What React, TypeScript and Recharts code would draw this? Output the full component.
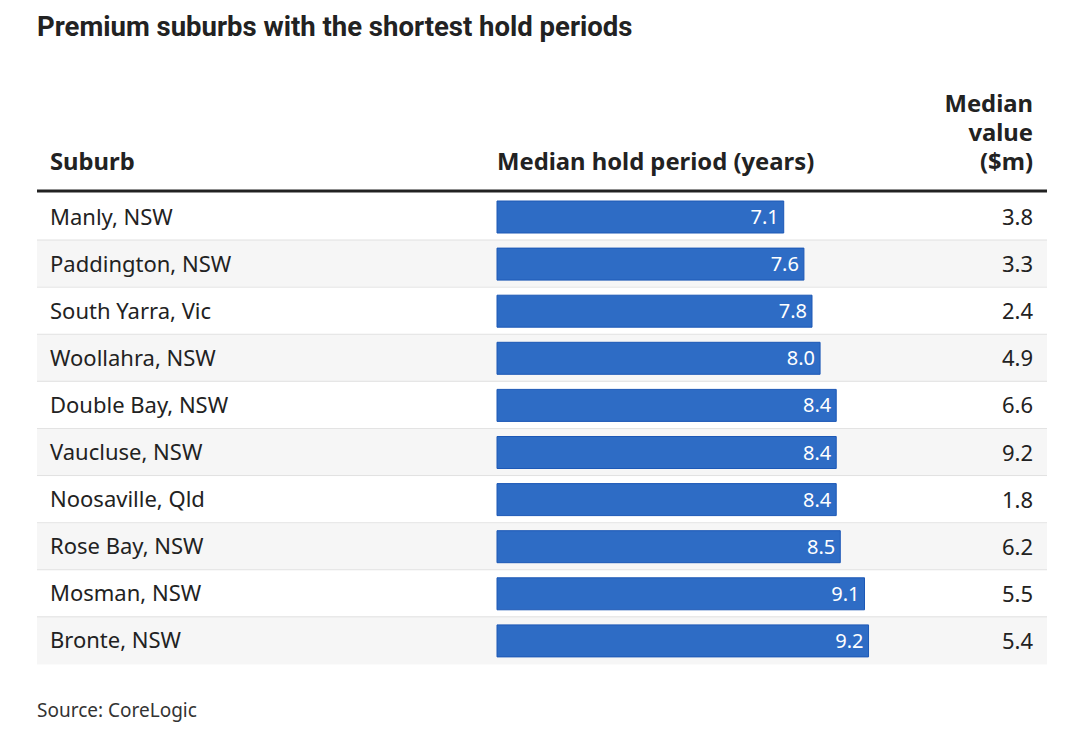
import React from 'react';
import { BarChart, Bar, XAxis, YAxis, LabelList } from 'recharts';

const suburbs = [
  'Manly, NSW',
  'Paddington, NSW',
  'South Yarra, Vic',
  'Woollahra, NSW',
  'Double Bay, NSW',
  'Vaucluse, NSW',
  'Noosaville, Qld',
  'Rose Bay, NSW',
  'Mosman, NSW',
  'Bronte, NSW',
];
const holdPeriods = [7.1, 7.6, 7.8, 8.0, 8.4, 8.4, 8.4, 8.5, 9.1, 9.2];
const medianValues = [3.8, 3.3, 2.4, 4.9, 6.6, 9.2, 1.8, 6.2, 5.5, 5.4];

const data = suburbs.map((suburb, i) => ({
  suburb,
  hold: holdPeriods[i],
  median: medianValues[i],
}));

const W = 1080;
const H = 733;
const TOP = 193;
const BOTTOM = 664;
const BAND = (BOTTOM - TOP) / suburbs.length;
const BAR = 32;
const TABLE_L = 37;
const TABLE_R = 1047;
const TEXT = '#222222';
const BODY_FONT = '"Noto Sans", sans-serif';
const HEAD_FONT = 'Roboto, sans-serif';

const RowBackground = (props: any) => {
  const { y, index } = props;
  const top = y - (BAND - BAR) / 2;
  return (
    <g>
      <rect x={TABLE_L} y={top} width={TABLE_R - TABLE_L} height={BAND} fill={index % 2 ? '#f6f6f6' : '#ffffff'} />
      {index < suburbs.length - 1 && (
        <line x1={TABLE_L} x2={TABLE_R} y1={top + BAND} y2={top + BAND} stroke="#e2e2e2" strokeWidth={2} />
      )}
    </g>
  );
};

const SuburbTick = (props: any) => {
  const { y, payload } = props;
  return (
    <text x={50} y={y} dy={8} fontSize={22} fill={TEXT} fontFamily={BODY_FONT} textAnchor="start">
      {payload.value}
    </text>
  );
};

const BarValue = (props: any) => {
  const { x, y, width, height, value } = props;
  return (
    <text x={x + width - 5} y={y + height / 2} dy={7} fontSize={20} fill="#ffffff" fontFamily={BODY_FONT} textAnchor="end">
      {Number(value).toFixed(1)}
    </text>
  );
};

const MedianValue = (props: any) => {
  const { y, height, value } = props;
  return (
    <text x={1033} y={y + height / 2} dy={8} fontSize={22} fill={TEXT} fontFamily={BODY_FONT} textAnchor="end">
      {Number(value).toFixed(1)}
    </text>
  );
};

export default function App() {
  return (
    <div style={{ position: 'relative', width: W, height: H, margin: -8, background: '#fff' }}>
      <BarChart
        width={W}
        height={H}
        data={data}
        layout="vertical"
        margin={{ top: TOP, bottom: H - BOTTOM, left: TABLE_L, right: 58 }}
        barSize={BAR}
        style={{ position: 'absolute', left: 0, top: 0 }}
      >
        <XAxis type="number" domain={[0, 13]} hide />
        <YAxis
          type="category"
          dataKey="suburb"
          width={460}
          axisLine={false}
          tickLine={false}
          tick={<SuburbTick />}
          interval={0}
        />
        <Bar
          dataKey="hold"
          fill="#2e6cc5"
          stroke="#1c58b6"
          strokeWidth={1}
          background={<RowBackground />}
          isAnimationActive={false}
        >
          <LabelList dataKey="hold" content={<BarValue />} />
          <LabelList dataKey="median" content={<MedianValue />} />
        </Bar>
      </BarChart>
      <svg width={W} height={H} style={{ position: 'absolute', left: 0, top: 0, pointerEvents: 'none' }}>
        <text x={37} y={36} fontSize={27.5} fontWeight={700} fill={TEXT} fontFamily={HEAD_FONT}>
          Premium suburbs with the shortest hold periods
        </text>
        <text x={50} y={170} fontSize={23.8} fontWeight={700} fill={TEXT} fontFamily={BODY_FONT}>
          Suburb
        </text>
        <text x={497} y={170} fontSize={23.8} fontWeight={700} fill={TEXT} fontFamily={BODY_FONT}>
          Median hold period (years)
        </text>
        <text x={1033} y={112} fontSize={23.8} fontWeight={700} fill={TEXT} fontFamily={BODY_FONT} textAnchor="end">
          Median
        </text>
        <text x={1033} y={141} fontSize={23.8} fontWeight={700} fill={TEXT} fontFamily={BODY_FONT} textAnchor="end">
          value
        </text>
        <text x={1033} y={170} fontSize={23.8} fontWeight={700} fill={TEXT} fontFamily={BODY_FONT} textAnchor="end">
          ($m)
        </text>
        <line x1={TABLE_L} x2={TABLE_R} y1={191} y2={191} stroke={TEXT} strokeWidth={3} />
        <text x={37} y={717} fontSize={19} fill="#333333" fontFamily={BODY_FONT}>
          Source: CoreLogic
        </text>
      </svg>
    </div>
  );
}
